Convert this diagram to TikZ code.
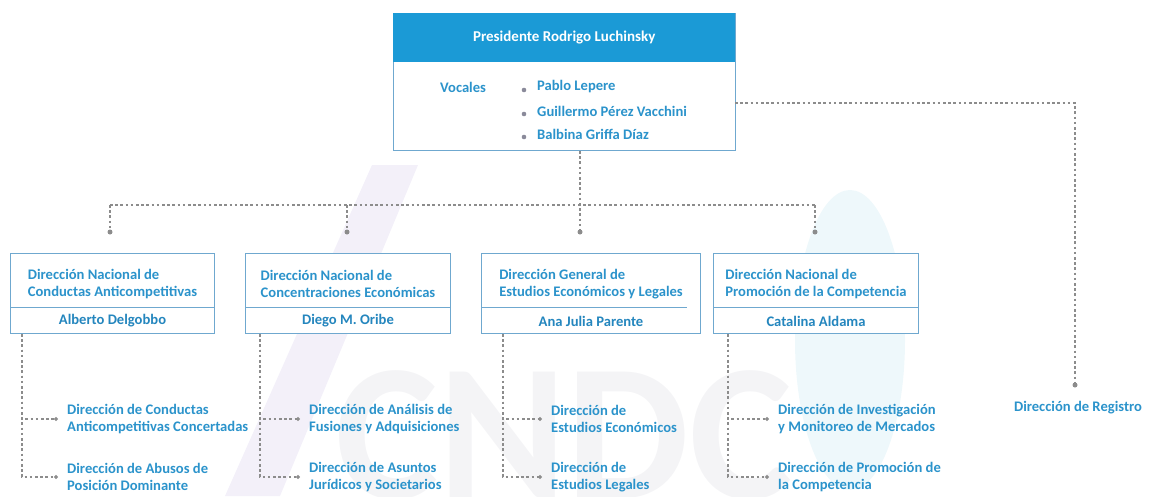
\documentclass[tikz,border=0pt]{standalone}
\usepackage{fontspec}
\setmainfont{Carlito}
\usetikzlibrary{arrows.meta}
\definecolor{hdr}{HTML}{1B9AD6}
\definecolor{txt}{HTML}{2B93CB}
\definecolor{nametxt}{HTML}{2486BE}
\definecolor{bord}{HTML}{6FA8CF}
\definecolor{connc}{HTML}{8C8C8C}
\definecolor{bulc}{HTML}{8A8A9A}
\definecolor{wmark}{HTML}{F4F4F6}
\definecolor{lav}{HTML}{F3F0F9}
\definecolor{cya}{HTML}{EEF8FB}
\begin{document}
\begin{tikzpicture}[x=1pt,y=-1pt,
  lbl/.style={font=\bfseries\fontsize{14.6}{17}\selectfont, text=txt, inner sep=0pt},
  namelbl/.style={font=\bfseries\fontsize{14.6}{17}\selectfont, text=nametxt, inner sep=0pt},
  conn/.style={draw=connc, line width=1.1pt, dash pattern=on 2.6pt off 2.6pt},
  arr/.style={-{Circle[length=4pt]}},
  enddot/.style={circle, fill=connc, inner sep=0pt, minimum size=5pt},
  orgbox/.style={draw=bord, line width=1pt, fill=white, inner sep=0pt},
  divline/.style={draw=bord, line width=1pt}]
\useasboundingbox (0,0) rectangle (1151,496);
\clip (0,0) rectangle (1151,496);
% faint watermark
\fill[lav] (372,165) -- (418,165) -- (280,496) -- (225,496) -- cycle;
\fill[cya] (850,340) ellipse (55 and 150);
\node[font=\bfseries\fontsize{195}{195}\selectfont, text=wmark, anchor=north west, inner sep=0pt] (wm) at (335,370) {CNDC};

% president box
\node[orgbox, minimum width=342pt, minimum height=137pt, anchor=north west] (pres) at (393,13) {};
\node[fill=hdr, minimum width=342pt, minimum height=49pt, anchor=north west, inner sep=0pt,
      text=white, font=\bfseries\fontsize{15}{17}\selectfont] (hdr) at (393,13) {Presidente Rodrigo Luchinsky};
\node[lbl, anchor=west] (voc) at (440,87) {Vocales};
\node[lbl, anchor=west] (v1) at (537,87) {Pablo Lepere};
\node[lbl, anchor=west] (v2) at (537,111) {Guillermo Pérez Vacchini};
\node[lbl, anchor=west] (v3) at (537,134) {Balbina Griffa Díaz};
\foreach \n in {v1,v2,v3} \fill[bulc] ([xshift=-13pt,yshift=-3pt]\n.west) circle (2.3pt);

% second level boxes
\node[orgbox, minimum width=204pt, minimum height=80pt, anchor=north west] (b1) at (10,253) {};
\node[orgbox, minimum width=205pt, minimum height=80pt, anchor=north west] (b2) at (245,253) {};
\node[orgbox, minimum width=219pt, minimum height=80pt, anchor=north west] (b3) at (481,253) {};
\node[orgbox, minimum width=205pt, minimum height=80pt, anchor=north west] (b4) at (713,253) {};
\foreach \b in {b1,b2,b4} \draw[divline] ([yshift=-54pt]\b.north west) -- ([yshift=-54pt]\b.north east);
\draw[divline] ([yshift=-54pt]b3.north west) -- ([yshift=-54pt,xshift=-14pt]b3.north east);

\node[lbl, align=left] (t1) at ([yshift=-31pt]b1.north) {Dirección Nacional de\\Conductas Anticompetitivas};
\node[lbl, align=left] (t2) at ([yshift=-31pt]b2.north) {Dirección Nacional de\\Concentraciones Económicas};
\node[lbl, align=left] (t3) at ([yshift=-31pt]b3.north) {Dirección General de\\Estudios Económicos y Legales};
\node[lbl, align=left] (t4) at ([yshift=-31pt]b4.north) {Dirección Nacional de\\Promoción de la Competencia};
\node[namelbl] (n1) at ([yshift=-68pt]b1.north) {Alberto Delgobbo};
\node[namelbl] (n2) at ([yshift=-68pt]b2.north) {Diego M. Oribe};
\node[namelbl] (n3) at ([yshift=-68pt]b3.north) {Ana Julia Parente};
\node[namelbl] (n4) at ([yshift=-68pt]b4.north) {Catalina Aldama};

% bus
\coordinate (d1) at (110,232);
\coordinate (d2) at (347,232);
\coordinate (d3) at (580,232);
\coordinate (d4) at (815,232);
\coordinate (bus1) at (110,205);
\coordinate (bus4) at (815,205);
\coordinate (p0) at (pres.south -| d3);
\draw[conn] (bus1) -- (bus4);
\draw[conn] (p0) -- (d3);
\draw[conn] (bus1) -- (d1);
\draw[conn] (bus1 -| d2) -- (d2);
\draw[conn] (bus4) -- (d4);
\foreach \d in {d1,d2,d3,d4} \node[enddot] at (\d) {};

% registro
\coordinate (r0) at (735,103);
\coordinate (dreg) at (1075,385);
\node[lbl] (reg) at (1078,408) {Dirección de Registro};
\draw[conn] (r0) -| (dreg);
\node[enddot] at (dreg) {};

% sub-units
\node[lbl, align=left, anchor=west] (s11) at (67,419) {Dirección de Conductas\\Anticompetitivas Concertadas};
\node[lbl, align=left, anchor=west] (s12) at (67,477) {Dirección de Abusos de\\Posición Dominante};
\node[lbl, align=left, anchor=west] (s21) at (309,419) {Dirección de Análisis de\\Fusiones y Adquisiciones};
\node[lbl, align=left, anchor=west] (s22) at (309,477) {Dirección de Asuntos\\Jurídicos y Societarios};
\node[lbl, align=left, anchor=west] (s31) at (551,419) {Dirección de\\Estudios Económicos};
\node[lbl, align=left, anchor=west] (s32) at (551,477) {Dirección de\\Estudios Legales};
\node[lbl, align=left, anchor=west] (s41) at (778,419) {Dirección de Investigación\\y Monitoreo de Mercados};
\node[lbl, align=left, anchor=west] (s42) at (778,477) {Dirección de Promoción de\\la Competencia};

\coordinate (u1) at ([xshift=12pt]b1.south west);
\coordinate (u2) at ([xshift=15pt]b2.south west);
\coordinate (u3) at ([xshift=22pt]b3.south west);
\coordinate (u4) at ([xshift=15pt]b4.south west);
\foreach \u/\a/\b in {u1/s11/s12,u2/s21/s22,u3/s31/s32,u4/s41/s42}{
  \draw[conn, arr] (\u) |- ([xshift=-9pt]\a.west);
  \draw[conn, arr] (\u) |- ([xshift=-9pt]\b.west);
}
\end{tikzpicture}
\end{document}
